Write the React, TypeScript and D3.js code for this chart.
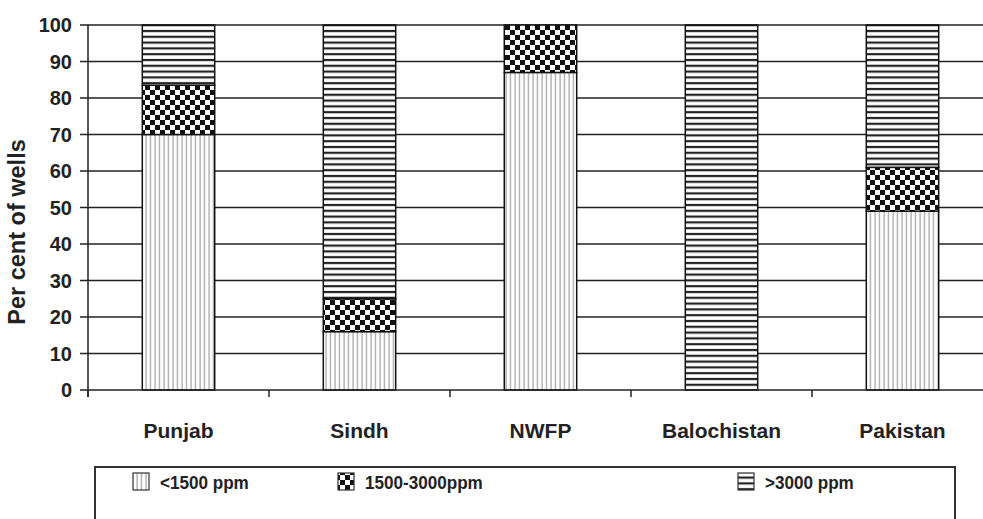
import React from 'react';
import * as d3 from 'd3';

// values (per cent of wells)
const categories = ['Punjab', 'Sindh', 'NWFP', 'Balochistan', 'Pakistan'];
const below1500 = [70, 16, 87, 0, 49];
const mid1500to3000 = [13.5, 9, 13, 0, 12];
const above3000 = [16.5, 75, 0, 100, 39];
const seriesKeys = ['low', 'mid', 'high'];
const legendLabels = ['<1500 ppm', '1500-3000ppm', '>3000 ppm'];
const yTickValues = [0, 10, 20, 30, 40, 50, 60, 70, 80, 90, 100];

const W = 983, H = 519;
const margin = { top: 25, left: 88, bottom: 129 };
const font = '"Liberation Sans", Arial, sans-serif';

export default function App() {
  const rows = categories.map((c, i) => ({
    cat: c, low: below1500[i], mid: mid1500to3000[i], high: above3000[i],
  }));
  const stacked = d3.stack<any>().keys(seriesKeys)(rows);

  const x = d3.scaleBand<string>()
    .domain(categories)
    .range([margin.left, margin.left + 181 * categories.length])
    .paddingInner(0.6)
    .paddingOuter(0.3);
  const y = d3.scaleLinear().domain([0, 100]).range([H - margin.bottom, margin.top]);

  const step = x.step();
  const boundaries = d3.range(categories.length).map(i => margin.left + step * i);
  const fills = ['url(#vert)', 'url(#check)', 'url(#horiz)'];
  const legendX = [133, 338, 738];

  return (
    <svg width={W} height={H} style={{ position: 'absolute', left: 0, top: 0, background: '#fff' }}>
      <defs>
        <pattern id="vert" width={4.5} height={10} patternUnits="userSpaceOnUse">
          <rect width={4.5} height={10} fill="#fff" />
          <line x1={2} x2={2} y1={0} y2={10} stroke="#8c8c8c" strokeWidth={1} />
        </pattern>
        <pattern id="horiz" width={10} height={5.8} patternUnits="userSpaceOnUse">
          <rect width={10} height={5.8} fill="#fff" />
          <line x1={0} x2={10} y1={2} y2={2} stroke="#222" strokeWidth={2.2} />
        </pattern>
        <pattern id="check" width={10} height={10} patternUnits="userSpaceOnUse">
          <rect width={10} height={10} fill="#fff" />
          <rect x={0} y={0} width={5} height={5} fill="#111" />
          <rect x={5} y={5} width={5} height={5} fill="#111" />
        </pattern>
      </defs>

      {/* gridlines */}
      {yTickValues.filter(v => v > 0).map(v => (
        <line key={v} x1={margin.left} x2={W} y1={y(v)} y2={y(v)} stroke="#222" strokeWidth={1.5} />
      ))}

      {/* bars */}
      {stacked.map((s, si) => (
        <g key={s.key}>
          {s.map((d, i) => (d[1] - d[0] > 0 ? (
            <rect key={i} x={x(categories[i])} width={x.bandwidth()}
              y={y(d[1])} height={y(d[0]) - y(d[1])}
              fill={fills[si]} stroke="#111" strokeWidth={1.5} />
          ) : null))}
        </g>
      ))}

      {/* y axis */}
      <line x1={margin.left} x2={margin.left} y1={y(100)} y2={y(0) + 7} stroke="#222" strokeWidth={1.5} />
      {yTickValues.map(v => (
        <g key={v}>
          <line x1={margin.left - 8} x2={margin.left} y1={y(v)} y2={y(v)} stroke="#222" strokeWidth={1.5} />
          <text x={72} y={y(v)} dy="0.36em" textAnchor="end" fontFamily={font} fontWeight="bold"
            fontSize={20} fill="#222">{v}</text>
        </g>
      ))}
      <text transform={`translate(25,232) rotate(-90)`} textAnchor="middle" fontFamily={font}
        fontWeight="bold" fontSize={23.5} fill="#222">Per cent of wells</text>

      {/* x axis */}
      <line x1={margin.left} x2={W} y1={y(0)} y2={y(0)} stroke="#222" strokeWidth={1.5} />
      {boundaries.map((b, i) => (
        <line key={i} x1={b} x2={b} y1={y(0)} y2={y(0) + 7} stroke="#222" strokeWidth={1.5} />
      ))}
      {categories.map(c => (
        <text key={c} x={(x(c) as number) + x.bandwidth() / 2} y={438} textAnchor="middle"
          fontFamily={font} fontWeight="bold" fontSize={21} fill="#222">{c}</text>
      ))}

      {/* legend */}
      <rect x={95} y={467} width={860} height={70} fill="#fff" stroke="#333" strokeWidth={2} />
      {legendLabels.map((l, i) => (
        <g key={l}>
          <rect x={legendX[i]} y={473} width={16} height={17} fill={fills[i]} stroke="#333" strokeWidth={1.2} />
          <text transform={`translate(${legendX[i] + 27},489) scale(0.9,1)`} fontFamily={font}
            fontWeight="bold" fontSize={19} fill="#222">{l}</text>
        </g>
      ))}
    </svg>
  );
}
